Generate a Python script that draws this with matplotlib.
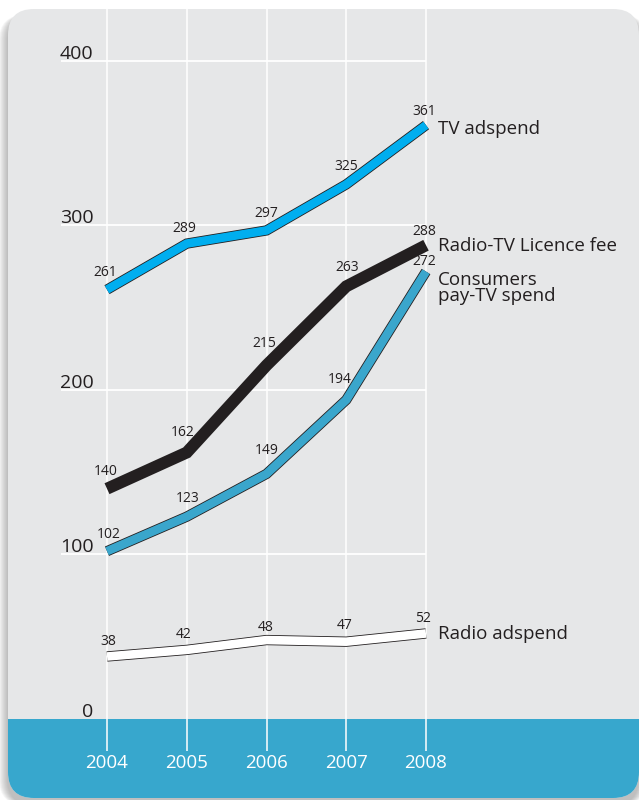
import matplotlib
matplotlib.use("Agg")
import matplotlib.pyplot as plt
import matplotlib.patheffects as pe
from matplotlib.patches import FancyBboxPatch, Rectangle

plt.rcParams['font.family'] = ['Open Sans', 'DejaVu Sans']

years = [2004, 2005, 2006, 2007, 2008]
tv_adspend = [261, 289, 297, 325, 361]
licence_fee = [140, 162, 215, 263, 288]
paytv_spend = [102, 123, 149, 194, 272]
radio_adspend = [38, 42, 48, 47, 52]
y_ticks = [0, 100, 200, 300, 400]

# label offsets in pixels (dx, dy) from each point
tv_off = [(-2, 17), (-2, 15), (0, 17), (0, 18), (-2, 14)]
lic_off = [(-1, 17), (-4, 20), (-2, 22), (1, 19), (-2, 14)]
pay_off = [(2, 17), (1, 18), (0, 23), (-7, 20), (-2, 10)]
rad_off = [(1, 15), (-3, 15), (-1, 13), (-2, 16), (-3, 15)]

dark = '#231f20'
grey = '#e6e7e8'
band = '#37a7cd'

fig = plt.figure(figsize=(6.39, 8.0), dpi=100)

# background in pixel coords
bg = fig.add_axes([0, 0, 1, 1])
bg.set_xlim(0, 639)
bg.set_ylim(800, 0)
bg.axis('off')

for i in range(9, 0, -1):
    sh = FancyBboxPatch((8 - i, 9 + 6), 640, 790, boxstyle='round,pad=0,rounding_size=26',
                        fc='#606060', ec='none', alpha=0.05)
    bg.add_patch(sh)
panel = FancyBboxPatch((8, 9), 631, 789, boxstyle='round,pad=0,rounding_size=26',
                       fc=grey, ec='none')
bg.add_patch(panel)
b = Rectangle((0, 719), 700, 100, fc=band, ec='none')
bg.add_patch(b)
b.set_clip_path(panel)

# main axes with data coords
ax = fig.add_axes([0, 0, 1, 1])
ax.patch.set_alpha(0)
ax.set_xlim(2002.6583, 2010.6708)
ax.set_ylim(-49.24, 437.08)
ax.axis('off')

ax.vlines(years, -19.5, 431.6, colors='white', lw=1.1, zorder=1)
ax.hlines(y_ticks[1:], 2003.42, 2008, colors='white', lw=1.3, zorder=1)

for v in y_ticks:
    ax.text(2003.83, v + 1.5, str(v), ha='right', va='baseline', fontsize=14, color=dark)

for yr in years:
    ax.text(yr, -26.7, str(yr), ha='center', va='center', fontsize=13.5, color='white')


def draw(vals, fill, lw, offs, outline=True):
    effects = []
    if outline:
        effects = [pe.Stroke(linewidth=lw + 1.2, foreground=dark, capstyle='butt', joinstyle='miter'),
                   pe.Normal()]
    ax.plot(years, vals, color=fill, lw=lw, solid_capstyle='butt', solid_joinstyle='miter',
            path_effects=effects, zorder=3)
    for x, v, (dx, dy) in zip(years, vals, offs):
        ax.annotate(str(v), (x, v), xytext=(dx, dy), textcoords='offset pixels',
                    ha='center', va='center', fontsize=10, color=dark, zorder=4)


draw(radio_adspend, 'white', 6.2, rad_off)
draw(paytv_spend, '#3aa6cc', 6.2, pay_off)
draw(licence_fee, dark, 8.6, lic_off, outline=False)
draw(tv_adspend, '#00aeef', 6.2, tv_off)

lx = 2008 + 12 / 79.75
ax.text(lx, 361 - 4 / 1.645, 'TV adspend', ha='left', va='center', fontsize=13.5, color=dark)
ax.text(lx, 288 - 1 / 1.645, 'Radio-TV Licence fee', ha='left', va='center', fontsize=13.5, color=dark)
ax.text(lx, 272 - 16 / 1.645, 'Consumers\npay-TV spend', ha='left', va='center', fontsize=13.5,
        color=dark, linespacing=0.85)
ax.text(lx, 52 - 1 / 1.645, 'Radio adspend', ha='left', va='center', fontsize=13.5, color=dark)

fig.savefig('out.png', dpi=100)
